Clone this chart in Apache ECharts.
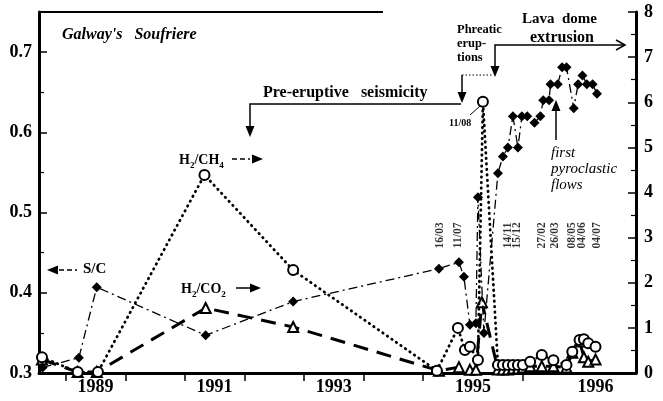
<!DOCTYPE html>
<html>
<head>
<meta charset="utf-8">
<script src="https://cdn.jsdelivr.net/npm/echarts@6/dist/echarts.min.js"></script>
<style>
	html, body { margin: 0; padding: 0; background: #fff; }
	#chart { width: 663px; height: 401px; }
</style>
</head>
<body>
<div id="chart"></div>
<script>
// S/C, left axis (diamonds)
var scDates = [1988.61, 1989.22, 1989.52, 1991.35, 1992.82, 1995.16, 1995.36, 1995.41, 1995.47, 1995.53, 1995.55, 1995.61,
	1995.75, 1995.80, 1995.85, 1995.90, 1995.95, 1995.99, 1996.03, 1996.08, 1996.12, 1996.14, 1996.18, 1996.19,
	1996.24, 1996.27, 1996.30, 1996.35, 1996.38, 1996.41, 1996.44, 1996.48, 1996.51];
var scValues = [0.307, 0.319, 0.407, 0.347, 0.389, 0.430, 0.438, 0.420, 0.360, 0.362, 0.519, 0.350,
	0.549, 0.570, 0.581, 0.620, 0.581, 0.620, 0.620, 0.612, 0.620, 0.640, 0.640, 0.660,
	0.660, 0.681, 0.681, 0.630, 0.660, 0.671, 0.660, 0.660, 0.648];

// H2/CH4, right axis (open circles)
var ch4Dates = [1988.60, 1989.20, 1989.54, 1991.33, 1992.82, 1995.14, 1995.35, 1995.42, 1995.47, 1995.55, 1995.60,
	1995.75, 1995.80, 1995.85, 1995.90, 1995.95, 1996.00, 1996.05, 1996.13, 1996.21, 1996.30, 1996.34,
	1996.39, 1996.42, 1996.45, 1996.50];
var ch4Values = [0.35, 0.02, 0.02, 4.39, 2.28, 0.05, 1.00, 0.51, 0.58, 0.29, 6.01,
	0.18, 0.18, 0.18, 0.18, 0.18, 0.18, 0.25, 0.40, 0.28, 0.18, 0.47,
	0.73, 0.75, 0.66, 0.58];

// H2/CO2, right axis (open triangles)
var co2Dates = [1988.60, 1989.20, 1989.52, 1991.35, 1992.82, 1995.16, 1995.36, 1995.47, 1995.53, 1995.59,
	1995.75, 1995.80, 1995.85, 1995.90, 1995.95, 1996.00, 1996.05, 1996.13, 1996.21, 1996.30, 1996.34,
	1996.39, 1996.42, 1996.45, 1996.50];
var co2Values = [0.30, 0.02, 0.02, 1.44, 1.02, 0.05, 0.13, 0.07, 0.07, 1.57,
	0.08, 0.08, 0.08, 0.10, 0.10, 0.12, 0.15, 0.15, 0.15, 0.12, 0.45,
	0.70, 0.35, 0.25, 0.30];

// sampling dates written above the points
var sampleLabels = ['16/03', '11/07', '14/11', '15/12', '27/02', '26/03', '08/05', '04/06', '04/07'];
var sampleDates = [1995.17, 1995.35, 1995.85, 1995.94, 1996.13, 1996.22, 1996.34, 1996.41, 1996.51];

var yearTicks = [1989, 1990, 1991, 1992, 1993, 1994, 1995, 1996];
var yearLabels = [1989, 1991, 1993, 1995, 1996];

var FONT = 'Liberation Serif';

// the time axis of the original figure is stretched after 1995
function warp(t) {
	if (t <= 1995) return t;
	if (t <= 1996) return 1995 + (t - 1995) * 1.68;
	return 1996.68 + (t - 1996) * 2.44;
}

function pairs(dates, values) {
	return dates.map(function(d, i) {
		return [warp(d), values[i]];
	});
}

function head(x, y, dir) {
	var l = 11, w = 4.5, pts;
	if (dir == 'down') pts = [[x, y], [x - w, y - l], [x + w, y - l]];
	if (dir == 'up') pts = [[x, y], [x - w, y + l], [x + w, y + l]];
	if (dir == 'left') pts = [[x, y], [x + l, y - w], [x + l, y + w]];
	if (dir == 'right') pts = [[x, y], [x - l, y - w], [x - l, y + w]];
	return { type: 'polygon', shape: { points: pts }, style: { fill: '#000' }, z: 10 };
}

function line(points, width, dash) {
	return {
		type: 'polyline',
		shape: { points: points },
		style: { stroke: '#000', lineWidth: width || 1.5, lineDash: dash || null, fill: null },
		z: 10
	};
}

function text(x, y, str, font, extra) {
	var style = { text: str, font: font, fill: '#000' };
	for (var k in extra) style[k] = extra[k];
	return { type: 'text', x: x, y: y, style: style, z: 10 };
}

var subRich = {
	m: { fontFamily: FONT, fontWeight: 'bold', fontSize: 14, lineHeight: 20, verticalAlign: 'middle' },
	s: { fontFamily: FONT, fontWeight: 'bold', fontSize: 9, lineHeight: 20, verticalAlign: 'bottom' }
};

function setOption(chart) {
	const option = {
		backgroundColor: '#ffffff',
		animation: false,
		grid: { left: 39, right: 27, top: 12, bottom: 28 },
		xAxis: {
			type: 'value',
			min: warp(1988.55),
			max: 1998.58,
			splitLine: { show: false },
			axisLine: { onZero: false, lineStyle: { color: '#000', width: 3 } },
			axisTick: {
				customValues: yearTicks.map(warp),
				length: 8,
				lineStyle: { color: '#000', width: 1.5 }
			},
			axisLabel: {
				customValues: yearLabels.map(function(y) { return warp(y + 0.5); }),
				formatter: function(v) {
					var best = yearLabels[0];
					yearLabels.forEach(function(y) {
						if (Math.abs(warp(y + 0.5) - v) < Math.abs(warp(best + 0.5) - v)) best = y;
					});
					return best;
				},
				color: '#000',
				fontFamily: FONT,
				fontWeight: 'bold',
				fontSize: 18,
				margin: 5
			}
		},
		yAxis: [{
			type: 'value',
			min: 0.3,
			max: 0.75,
			interval: 0.1,
			position: 'left',
			splitLine: { show: false },
			axisLine: { show: true, onZero: false, lineStyle: { color: '#000', width: 3 } },
			axisTick: { inside: true, length: 8, lineStyle: { color: '#000', width: 1.5 } },
			minorTick: { show: true, splitNumber: 2, length: 5, lineStyle: { color: '#000', width: 1.2 } },
			axisLabel: {
				showMaxLabel: false,
				formatter: function(v) { return v.toFixed(1); },
				color: '#000',
				fontFamily: FONT,
				fontWeight: 'bold',
				fontSize: 18,
				margin: 7
			}
		}, {
			type: 'value',
			min: 0,
			max: 8,
			interval: 1,
			position: 'right',
			splitLine: { show: false },
			axisLine: { show: true, onZero: false, lineStyle: { color: '#000', width: 3 } },
			axisTick: { inside: true, length: 8, lineStyle: { color: '#000', width: 1.5 } },
			minorTick: { show: true, splitNumber: 2, length: 5, lineStyle: { color: '#000', width: 1.2 } },
			axisLabel: {
				color: '#000',
				fontFamily: FONT,
				fontWeight: 'bold',
				fontSize: 18,
				margin: 8
			}
		}],
		series: [{
			name: 'S/C',
			type: 'line',
			yAxisIndex: 0,
			data: pairs(scDates, scValues),
			symbol: 'diamond',
			symbolSize: 10,
			itemStyle: { color: '#000' },
			lineStyle: { color: '#000', width: 1.3, type: [9, 4, 2, 4] },
			z: 4
		}, {
			name: 'H2/CH4',
			type: 'line',
			yAxisIndex: 1,
			data: pairs(ch4Dates, ch4Values),
			symbol: 'emptyCircle',
			symbolSize: 10,
			itemStyle: { color: '#000', borderWidth: 1.3 },
			lineStyle: { color: '#000', width: 2.8, type: [0.5, 5], cap: 'round' },
			z: 3
		}, {
			name: 'H2/CO2',
			type: 'line',
			yAxisIndex: 1,
			data: pairs(co2Dates, co2Values),
			symbol: 'emptyTriangle',
			symbolSize: 10,
			itemStyle: { color: '#000', borderWidth: 1.3 },
			lineStyle: { color: '#000', width: 3, type: [15, 9] },
			z: 2
		}, {
			type: 'scatter',
			yAxisIndex: 1,
			silent: true,
			symbolSize: 0,
			data: sampleDates.map(function(d, i) {
				return { name: sampleLabels[i], value: [warp(d), 3.05] };
			}),
			label: {
				show: true,
				formatter: '{b}',
				rotate: 90,
				position: 'inside',
				color: '#000',
				fontFamily: FONT,
				fontWeight: 'bold',
				fontSize: 11.5
			}
		}],
		graphic: [
			line([[39, 12], [383, 12]], 2),
			text(62, 27, "Galway's   Soufriere", 'italic bold 16px ' + FONT),

			text(179, 150, '{m|H}{s|2}{m|/CH}{s|4}', null, { rich: subRich }),
			line([[232, 159], [250, 159]], 1.3, [5, 3]),
			head(263, 159, 'right'),

			text(83, 262, 'S/C', 'bold 15px ' + FONT),
			line([[59, 270], [77, 270]], 1.3, [5, 3]),
			head(47, 270, 'left'),

			text(181, 279, '{m|H}{s|2}{m|/CO}{s|2}', null, { rich: subRich }),
			line([[236, 288], [250, 288]], 1.5),
			head(261, 288, 'right'),

			line([[250, 126], [250, 104], [461, 104]], 1.5),
			head(250, 137, 'down'),
			text(263, 85, 'Pre-eruptive   seismicity', 'bold 16px ' + FONT),

			line([[462, 75], [462, 92]], 1.5),
			head(462, 103, 'down'),
			line([[462, 75], [492, 75]], 1.2, [1.5, 2]),
			text(457, 23, 'Phreatic\nerup-\ntions', 'bold 12.5px ' + FONT, { lineHeight: 14 }),

			line([[495, 66], [495, 45], [624, 45]], 1.5),
			head(495, 77, 'down'),
			line([[616, 40], [625, 45], [616, 50]], 1.5),
			text(522, 12, 'Lava  dome', 'bold 15px ' + FONT),
			text(530, 30, 'extrusion', 'bold 16px ' + FONT),

			text(449, 118, '11/08', 'bold 10px ' + FONT),
			line([[470, 115], [480, 106]], 1),

			line([[556, 140], [556, 110]], 1.5),
			head(556, 100, 'up'),
			text(551, 145, 'first\npyroclastic\nflows', 'italic 15px ' + FONT, { lineHeight: 16 })
		]
	};
	chart.setOption(option);
}

var chart = echarts.init(document.getElementById('chart'));
setOption(chart);
</script>
</body>
</html>
